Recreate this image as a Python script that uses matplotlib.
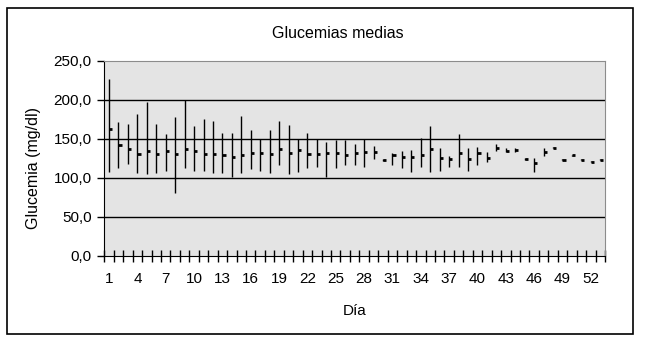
import numpy as np
import matplotlib
matplotlib.use("Agg")
import matplotlib.pyplot as plt
from matplotlib.patches import Rectangle

plt.rcParams['font.family'] = ['Liberation Sans', 'DejaVu Sans']

# Daily glucose: max, min and mean (mg/dl), days 1..53
days = np.arange(1, 54)
max_vals = [227, 172, 169, 182, 197, 169, 156, 178, 200, 167,
            176, 173.5, 158, 158, 179.5, 161, 149.5, 161, 173, 168,
            149.5, 158, 149.5, 146, 149, 148.7, 144, 150, 141, 124.5,
            132.5, 134, 136, 151, 166, 138, 128, 156, 138.5, 139.5,
            133, 143, 138, 138.8, 125, 126, 138.8, 139.5, 124, 129.5,
            124, 121.5, 124]
min_vals = [108, 113, 118, 106.7, 105.4, 106.7, 109, 81, 113, 109,
            109, 106.7, 106.7, 100.7, 106.7, 111.8, 109, 106.7, 117, 105.4,
            108, 113, 114.4, 100.7, 113, 117, 117, 114.4, 124, 121,
            117, 112, 107, 114.4, 107, 109, 114, 114.4, 109, 117,
            120.5, 134.6, 133, 133, 123.5, 108, 128.5, 138, 122.5, 128,
            122.5, 120, 122.5]
mean_vals = [163, 142.7, 137.5, 131, 134.5, 131, 134.5, 131, 137.5, 134.5,
             131, 131, 129, 127, 129, 132.4, 132.4, 131, 137.5, 132.4,
             135.4, 131, 131, 132.4, 132.4, 129, 131.3, 132.6, 132.6, 123,
             129, 126.6, 127.2, 129.6, 136.6, 125, 124.3, 131.7, 123.6, 131.3,
             125, 138.8, 135, 135.8, 124.7, 119, 133.7, 138.8, 123.4, 129,
             123.4, 120.8, 123.4]

y_ticks = [0, 50, 100, 150, 200, 250]
x_labels = list(range(1, 53, 3))

fig = plt.figure(figsize=(6.46, 3.44), dpi=100)
ax = fig.add_axes([0.1615, 0.2567, 0.775, 0.566])
ax.set_facecolor('#e4e4e4')

# high-low lines with mean tick on the right
ax.vlines(days, min_vals, max_vals, color='black', lw=1.0, zorder=3)
ax.hlines(mean_vals, days, days + 0.33, color='black', lw=2.0, zorder=3)

ax.set_xlim(0.5, 53.5)
ax.set_ylim(0, 250)

ax.set_yticks(y_ticks)
ax.set_yticklabels([f"{v:.1f}".replace('.', ',') for v in y_ticks], fontsize=11)
ax.tick_params(axis='y', direction='out', length=5, width=1, pad=4)
for v in y_ticks[1:-1]:
    ax.axhline(v, color='black', lw=1.0, zorder=1)

ax.set_xticks(x_labels)
ax.set_xticklabels([str(v) for v in x_labels], fontsize=11)
ax.set_xticks(np.arange(0.5, 54, 1), minor=True)
ax.tick_params(axis='x', which='major', length=0, pad=12)
ax.tick_params(axis='x', which='minor', direction='inout', length=8, width=1)

ax.spines['left'].set_color('black')
ax.spines['bottom'].set_color('black')
ax.spines['top'].set_color('#8c8c8c')
ax.spines['right'].set_color('#8c8c8c')

fig.text(0.523, 0.904, 'Glucemias medias', fontsize=11.5, ha='center', va='center')
fig.text(0.052, 0.5125, 'Glucemia (mg/dl)', fontsize=11.5, rotation=90,
         ha='center', va='center')
ax.set_xlabel('Día', fontsize=11, labelpad=13)

# outer frame around the chart
fig.patches.append(Rectangle((0.0108, 0.029), 0.969, 0.949, transform=fig.transFigure,
                             fill=False, edgecolor='black', lw=1.2))

fig.savefig('out.png', dpi=100)
